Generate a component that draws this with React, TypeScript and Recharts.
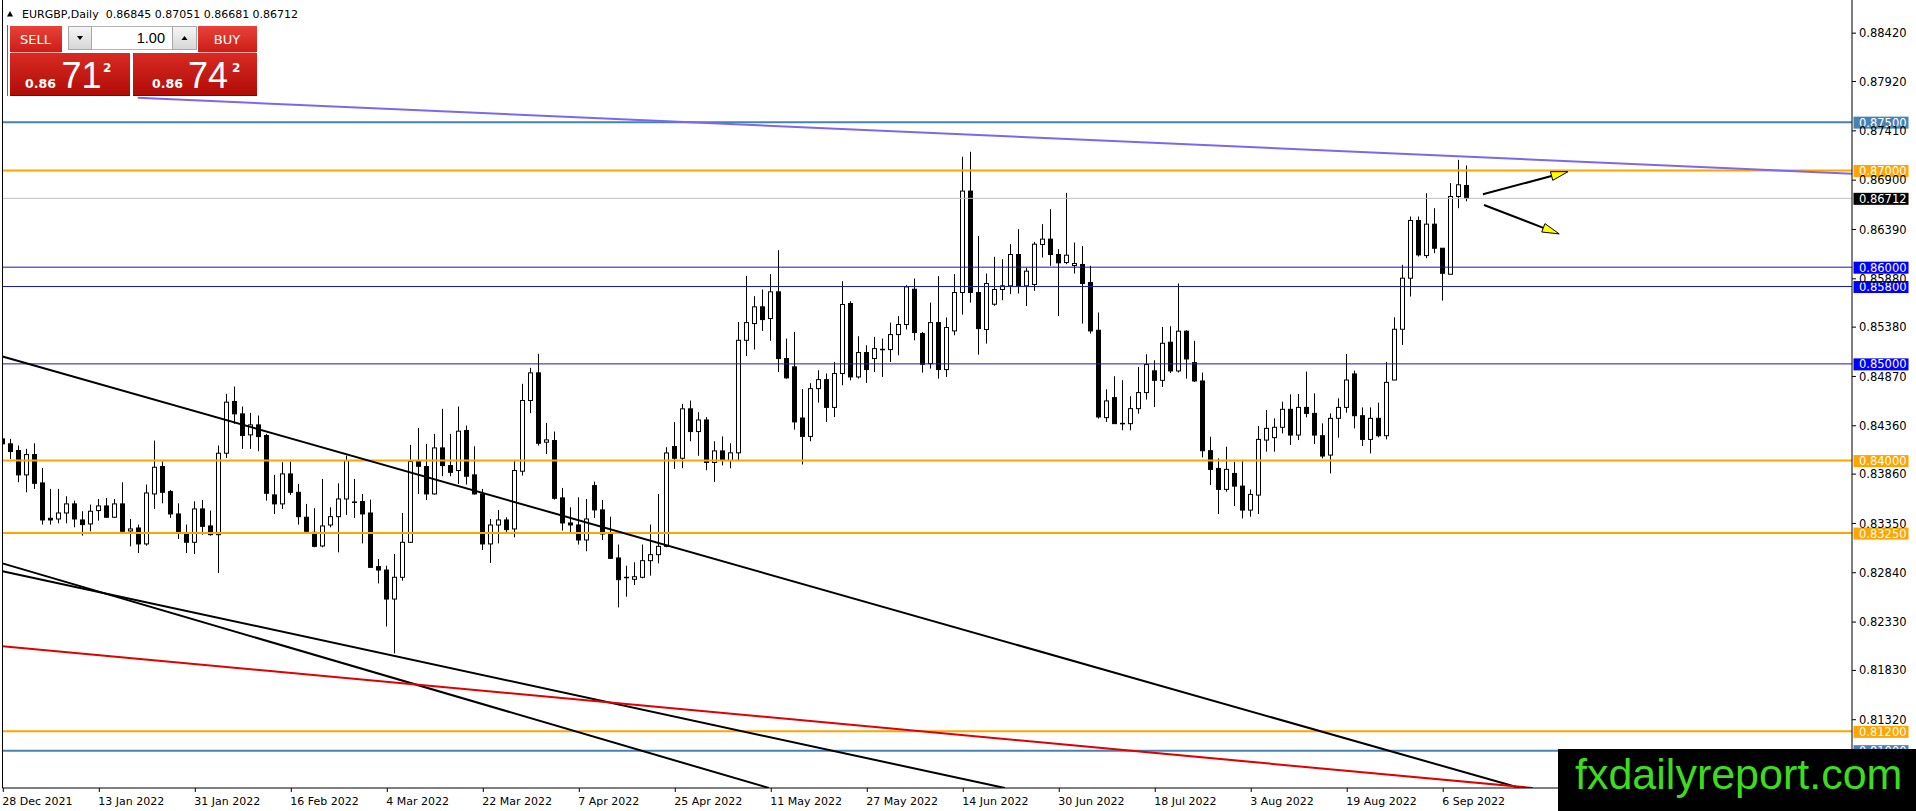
import React from "react";
import {
  ComposedChart,
  Bar,
  XAxis,
  YAxis,
  ReferenceLine,
} from "recharts";

// EURGBP daily candles, bar index 0 = 28 Dec 2021
const OPENS = [
  0.84224, 0.84173, 0.84104, 0.83852, 0.84062, 0.83769, 0.83403, 0.83396, 0.83458, 0.83552,
  0.83386, 0.83345, 0.83483, 0.83531, 0.83414, 0.83552, 0.83272, 0.83303, 0.83138, 0.83655,
  0.83938, 0.83679, 0.83448, 0.83241, 0.83155, 0.835, 0.83324, 0.83234, 0.84076, 0.84611,
  0.84483, 0.84266, 0.84369, 0.84259, 0.83645, 0.83552, 0.83862, 0.83672, 0.83414, 0.83258,
  0.83117, 0.83334, 0.8342, 0.83603, 0.83572, 0.83576, 0.83458, 0.82903, 0.82868, 0.82568,
  0.82793, 0.83155, 0.8399, 0.83938, 0.83655, 0.84131, 0.83948, 0.83897, 0.84311, 0.83852,
  0.83655, 0.83138, 0.83334, 0.83386, 0.83293, 0.8389, 0.84621, 0.84907, 0.8419, 0.84207,
  0.83614, 0.83355, 0.83334, 0.83179, 0.83741, 0.8349, 0.83241, 0.82993, 0.82793, 0.82772,
  0.82793, 0.82965, 0.83027, 0.83113, 0.84145, 0.84024, 0.84535, 0.843, 0.8442, 0.8398,
  0.841, 0.84, 0.8408, 0.85244, 0.85417, 0.8559, 0.85469, 0.85745, 0.85055, 0.84969,
  0.8444, 0.8425, 0.84744, 0.84837, 0.8455, 0.849, 0.85624, 0.84865, 0.85117, 0.85055,
  0.85151, 0.85148, 0.85303, 0.85407, 0.85772, 0.85313, 0.85003, 0.85427, 0.84941, 0.85341,
  0.85738, 0.86787, 0.85738, 0.85355, 0.85617, 0.85769, 0.85807, 0.86131, 0.85807, 0.85821,
  0.86235, 0.8629, 0.86131, 0.86048, 0.86017, 0.86028, 0.85841, 0.85348, 0.84444, 0.84651,
  0.84385, 0.84382, 0.84537, 0.84703, 0.84928, 0.8483, 0.85224, 0.84927, 0.85338, 0.85013,
  0.84823, 0.84102, 0.83919, 0.83702, 0.83867, 0.83736, 0.83488, 0.83643, 0.84212, 0.84237,
  0.84344, 0.8453, 0.84264, 0.8455, 0.84488, 0.84257, 0.84057, 0.84437, 0.8455, 0.84896,
  0.84464, 0.84219, 0.84437, 0.84257, 0.84833, 0.85358, 0.85886, 0.86483, 0.8612, 0.86445,
  0.86196, 0.85927, 0.86731, 0.86845,
];

const HIGHS = [
  0.84317, 0.84224, 0.84155, 0.84121, 0.84179, 0.83924, 0.83707, 0.83707, 0.83631, 0.83586,
  0.83476, 0.83545, 0.83603, 0.83614, 0.83603, 0.83776, 0.83396, 0.83338, 0.83752, 0.84207,
  0.83993, 0.83696, 0.83558, 0.83338, 0.83579, 0.83593, 0.83483, 0.84155, 0.8469, 0.84766,
  0.84559, 0.84493, 0.84466, 0.84276, 0.83852, 0.83983, 0.8399, 0.83759, 0.83552, 0.83507,
  0.8381, 0.83517, 0.83765, 0.84052, 0.8381, 0.83655, 0.83596, 0.82982, 0.82913, 0.83034,
  0.83458, 0.84162, 0.84338, 0.84173, 0.84276, 0.84535, 0.84276, 0.84559, 0.84362, 0.84148,
  0.83707, 0.83396, 0.83489, 0.83414, 0.84, 0.84794, 0.84959, 0.85104, 0.8439, 0.843,
  0.83717, 0.83517, 0.8362, 0.83603, 0.83783, 0.83593, 0.8342, 0.83131, 0.82913, 0.82948,
  0.83131, 0.83338, 0.83655, 0.84138, 0.84397, 0.84587, 0.8462, 0.845, 0.8445, 0.842,
  0.8425, 0.8418, 0.85434, 0.8591, 0.857, 0.85769, 0.85928, 0.86176, 0.85262, 0.85331,
  0.8474, 0.848, 0.84934, 0.849, 0.8502, 0.85855, 0.85648, 0.85286, 0.85193, 0.85279,
  0.85262, 0.85427, 0.85493, 0.85814, 0.85883, 0.8533, 0.85634, 0.85907, 0.85479, 0.85928,
  0.87142, 0.87194, 0.86321, 0.85934, 0.86107, 0.86083, 0.86238, 0.86393, 0.85993, 0.86262,
  0.86445, 0.866, 0.86186, 0.86769, 0.86255, 0.86217, 0.86014, 0.85531, 0.84737, 0.84872,
  0.84831, 0.84665, 0.84968, 0.851, 0.85037, 0.85382, 0.85389, 0.85831, 0.85348, 0.85238,
  0.8491, 0.84247, 0.84023, 0.84143, 0.83988, 0.83999, 0.83702, 0.84357, 0.84523, 0.84437,
  0.84609, 0.84685, 0.84689, 0.8492, 0.84695, 0.84385, 0.84488, 0.84644, 0.85103, 0.8493,
  0.8455, 0.8455, 0.84599, 0.8502, 0.85482, 0.86024, 0.86524, 0.86524, 0.86765, 0.8661,
  0.86196, 0.86869, 0.8711, 0.87051,
];

const LOWS = [
  0.84155, 0.84017, 0.83776, 0.83672, 0.83707, 0.83338, 0.83338, 0.83351, 0.83351, 0.8331,
  0.83224, 0.83269, 0.83379, 0.83407, 0.83407, 0.83258, 0.83113, 0.83044, 0.8312, 0.835,
  0.83558, 0.83407, 0.83189, 0.83044, 0.83034, 0.83234, 0.83224, 0.82837, 0.84028, 0.8438,
  0.84121, 0.84121, 0.84097, 0.83586, 0.83448, 0.835, 0.83645, 0.83338, 0.83241, 0.83103,
  0.83103, 0.8331, 0.83051, 0.83438, 0.83407, 0.83144, 0.82889, 0.8273, 0.82285, 0.82006,
  0.82758, 0.83148, 0.83655, 0.83593, 0.83648, 0.83838, 0.83838, 0.83759, 0.83752, 0.83648,
  0.83075, 0.82941, 0.83144, 0.83241, 0.83207, 0.83845, 0.8449, 0.84155, 0.84069, 0.83596,
  0.83276, 0.83258, 0.83131, 0.83062, 0.83407, 0.83179, 0.82982, 0.82482, 0.82592, 0.82713,
  0.82782, 0.8281, 0.82937, 0.83103, 0.83914, 0.83921, 0.842, 0.8405, 0.839, 0.8378,
  0.8395, 0.8392, 0.84, 0.85082, 0.85148, 0.85341, 0.85238, 0.84917, 0.84848, 0.8432,
  0.8396, 0.842, 0.846, 0.844, 0.8445, 0.84779, 0.8483, 0.84848, 0.84803, 0.84917,
  0.84865, 0.8502, 0.85089, 0.85355, 0.85244, 0.8491, 0.84951, 0.84848, 0.84865, 0.85296,
  0.8551, 0.85634, 0.85096, 0.8521, 0.856, 0.85658, 0.85721, 0.85727, 0.85598, 0.85755,
  0.861, 0.86014, 0.85496, 0.86031, 0.85934, 0.85417, 0.85313, 0.84434, 0.84399, 0.84382,
  0.84313, 0.84313, 0.84485, 0.8463, 0.84554, 0.84761, 0.84906, 0.8491, 0.84848, 0.84813,
  0.84033, 0.83747, 0.83447, 0.83678, 0.83529, 0.83402, 0.83419, 0.83447, 0.84092, 0.84092,
  0.84281, 0.84161, 0.84212, 0.84447, 0.84171, 0.84023, 0.83867, 0.84237, 0.84495, 0.84333,
  0.84151, 0.84074, 0.8424, 0.84219, 0.84833, 0.85196, 0.85696, 0.8611, 0.86093, 0.86144,
  0.85655, 0.85927, 0.8661, 0.86681,
];

const CLOSES = [
  0.84173, 0.84093, 0.83852, 0.84062, 0.83765, 0.83386, 0.83386, 0.83458, 0.83552, 0.83396,
  0.83338, 0.83476, 0.83531, 0.83414, 0.83552, 0.83269, 0.83293, 0.83138, 0.83665, 0.83931,
  0.83672, 0.83448, 0.83248, 0.83155, 0.835, 0.8332, 0.83234, 0.84076, 0.84604, 0.84483,
  0.84259, 0.84369, 0.84248, 0.83662, 0.83552, 0.83862, 0.83672, 0.8342, 0.83269, 0.83113,
  0.83324, 0.8342, 0.83603, 0.84, 0.83569, 0.83448, 0.82896, 0.82868, 0.82568, 0.82793,
  0.83155, 0.8399, 0.83941, 0.83655, 0.84131, 0.83948, 0.83879, 0.84304, 0.83838, 0.83655,
  0.83138, 0.83334, 0.83386, 0.83286, 0.83897, 0.84621, 0.84907, 0.84179, 0.84214, 0.8361,
  0.83355, 0.83334, 0.83179, 0.83396, 0.8349, 0.83241, 0.82989, 0.82768, 0.82789, 0.82799,
  0.82965, 0.83027, 0.83113, 0.84079, 0.84024, 0.84535, 0.843, 0.8442, 0.8398, 0.841,
  0.84, 0.8408, 0.85244, 0.85427, 0.8559, 0.85458, 0.85745, 0.85055, 0.84855, 0.844,
  0.8425, 0.84744, 0.84837, 0.8455, 0.849, 0.85614, 0.84865, 0.85117, 0.84941, 0.85158,
  0.85148, 0.85303, 0.85407, 0.85796, 0.85324, 0.84996, 0.85427, 0.84941, 0.85376, 0.85738,
  0.86787, 0.85738, 0.85365, 0.85831, 0.85769, 0.85807, 0.86131, 0.85807, 0.85959, 0.86238,
  0.8629, 0.86131, 0.86045, 0.86124, 0.86038, 0.85831, 0.85341, 0.84451, 0.84617, 0.84382,
  0.84382, 0.84537, 0.84703, 0.84993, 0.8483, 0.85213, 0.84927, 0.85338, 0.85051, 0.84823,
  0.84102, 0.83909, 0.83702, 0.83909, 0.83736, 0.83488, 0.8365, 0.84219, 0.84333, 0.84344,
  0.8453, 0.84264, 0.8455, 0.84488, 0.84264, 0.84047, 0.84437, 0.8455, 0.84833, 0.84464,
  0.84219, 0.84437, 0.84257, 0.84809, 0.85358, 0.85886, 0.86483, 0.86127, 0.86445, 0.86196,
  0.85937, 0.86731, 0.86852, 0.86712,
];

const DATE_TICKS = [0, 12, 24, 36, 48, 60, 72, 84, 96, 108, 120, 132, 144, 156, 168, 180];
const DATE_LABELS = [
  "28 Dec 2021", "13 Jan 2022", "31 Jan 2022", "16 Feb 2022", "4 Mar 2022", "22 Mar 2022",
  "7 Apr 2022", "25 Apr 2022", "11 May 2022", "27 May 2022", "14 Jun 2022", "30 Jun 2022",
  "18 Jul 2022", "3 Aug 2022", "19 Aug 2022", "6 Sep 2022",
];

const PRICE_TICKS = [
  0.8132, 0.8183, 0.8233, 0.8284, 0.8335, 0.8386, 0.8436, 0.8487,
  0.8538, 0.8588, 0.8639, 0.869, 0.8741, 0.8792, 0.8842,
];

// horizontal levels drawn on the chart
const LEVELS = [0.875, 0.87, 0.86712, 0.86, 0.858, 0.85, 0.84, 0.8325, 0.812, 0.81];
const LEVEL_COLORS = ["#4682B4", "#FFA500", "#C0C0C0", "#0000FF", "#0000FF", "#0000FF", "#FFA500", "#FFA500", "#FFA500", "#4682B4"];
const LEVEL_LINE = ["#4682B4", "#FFA500", "#C0C0C0", "#1818B8", "#1818B8", "#1818B8", "#FFA500", "#FFA500", "#FFA500", "#4682B4"];
const LEVEL_WIDTH = [2, 2, 1, 1, 1, 1, 2, 2, 2, 2];
const TAG_COLORS = ["#4682B4", "#FFA500", "#000000", "#0000FF", "#0000FF", "#0000FF", "#FFA500", "#FFA500", "#FFA500", "#4682B4"];

// trend lines: bar index / price pairs
const TRENDS = [
  { x1: 16.8, y1: 0.87752, x2: 231.1, y2: 0.86967 },
  { x1: -0.1, y1: 0.85077, x2: 189.6, y2: 0.80614 },
  { x1: -0.1, y1: 0.82937, x2: 95.7, y2: 0.80614 },
  { x1: -0.1, y1: 0.82856, x2: 125.2, y2: 0.80614 },
  { x1: -0.1, y1: 0.82081, x2: 191.2, y2: 0.80614 },
];
const TREND_COLORS = ["#7B68EE", "#000000", "#000000", "#000000", "#E00000"];

const ARROWS = [
  { x1: 184.96, y1: 0.86754, x2: 195.6, y2: 0.86988 },
  { x1: 185.1, y1: 0.86643, x2: 194.5, y2: 0.86344 },
];

const rows = OPENS.map((o, i) => ({
  i,
  open: o,
  high: HIGHS[i],
  low: LOWS[i],
  close: CLOSES[i],
  range: [LOWS[i], HIGHS[i]],
}));

const FONT = "'DejaVu Sans', sans-serif";

const Candle = (props: any) => {
  const { x, y, width, height, payload } = props;
  if (!payload || x == null) return null;
  const { open, close, high, low } = payload;
  const top = Math.min(y, y + height);
  const h = Math.abs(height);
  const span = high - low || 1e-9;
  const py = (p: number) => top + ((high - p) / span) * h;
  const cx = Math.floor(x + width / 2) + 0.5;
  const bTop = py(Math.max(open, close));
  const bBot = py(Math.min(open, close));
  const up = close >= open;
  return (
    <g>
      <line x1={cx} x2={cx} y1={top} y2={top + h} stroke="#000" strokeWidth={1} />
      <rect
        x={cx - 2}
        y={bTop}
        width={4}
        height={Math.max(bBot - bTop, 0.5)}
        fill={up ? "#fff" : "#000"}
        stroke="#000"
        strokeWidth={1}
      />
    </g>
  );
};

const DateTick = ({ x, y, payload }: any) => {
  const idx = DATE_TICKS.indexOf(payload.value);
  return (
    <g>
      <line x1={x} x2={x} y1={y} y2={y + 4} stroke="#000" />
      <text x={x - 1} y={y + 17} fontSize={11} fontFamily={FONT} fill="#000">
        {DATE_LABELS[idx]}
      </text>
    </g>
  );
};

const priceTag = (text: string, fill: string) => (props: any) => {
  const vb = props.viewBox || {};
  const xr = (vb.x || 0) + (vb.width || 0);
  const yy = vb.y || 0;
  return (
    <g>
      <rect x={xr + 1.5} y={yy - 5.5} width={55} height={12} fill={fill} />
      <text x={xr + 7} y={yy + 4.6} fontSize={11.5} fontFamily={FONT} fill="#fff">
        {text}
      </text>
    </g>
  );
};

const Arrow = (p: any) => {
  const { x1, y1, x2, y2 } = p;
  if (x1 == null) return null;
  const dx = x2 - x1;
  const dy = y2 - y1;
  const len = Math.sqrt(dx * dx + dy * dy) || 1;
  const ux = dx / len;
  const uy = dy / len;
  const bx = x2 - ux * 17;
  const by = y2 - uy * 17;
  const nx = -uy * 4.5;
  const ny = ux * 4.5;
  return (
    <g>
      <line x1={x1} y1={y1} x2={bx} y2={by} stroke="#000" strokeWidth={2} />
      <polygon
        points={`${x2},${y2} ${bx + nx},${by + ny} ${bx - nx},${by - ny}`}
        fill="#FFFF00"
        stroke="#000"
        strokeWidth={1}
      />
    </g>
  );
};

const TradePanel = () => (
  <svg
    width={1916}
    height={811}
    style={{ position: "absolute", left: 0, top: 0, pointerEvents: "none" }}
  >
    <defs>
      <linearGradient id="tabRed" x1="0" y1="0" x2="0" y2="1">
        <stop offset="0" stopColor="#e8423a" />
        <stop offset="1" stopColor="#cc1d16" />
      </linearGradient>
      <linearGradient id="boxRed" x1="0" y1="0" x2="0" y2="1">
        <stop offset="0" stopColor="#d82a22" />
        <stop offset="1" stopColor="#b10c07" />
      </linearGradient>
      <linearGradient id="btnGray" x1="0" y1="0" x2="0" y2="1">
        <stop offset="0" stopColor="#f6f6f6" />
        <stop offset="1" stopColor="#d6d6d6" />
      </linearGradient>
    </defs>
    <line x1={2.5} x2={2.5} y1={0} y2={788} stroke="#000" />
    {/* header */}
    <polygon points="7,16.5 13,16.5 10,11" fill="#000" />
    <text x={22} y={17.5} fontSize={11} fontFamily={FONT} fill="#000" style={{ whiteSpace: "pre" }}>
      {"EURGBP,Daily  0.86845 0.87051 0.86681 0.86712"}
    </text>
    {/* one-click trading */}
    <line x1={7.5} x2={7.5} y1={25} y2={96} stroke="#666" />
    <rect x={10} y={26} width={52} height={26} fill="url(#tabRed)" />
    <line x1={11} x2={61} y1={52.5} y2={52.5} stroke="#f0a0a0" />
    <text x={35.5} y={44} fontSize={13} fontFamily={FONT} fill="#fff" textAnchor="middle">SELL</text>
    <rect x={68.5} y={26.5} width={128} height={23} fill="#fff" stroke="#b4b4b4" />
    <rect x={68.5} y={26.5} width={23} height={23} fill="url(#btnGray)" stroke="#a8a8a8" />
    <polygon points="77,36 83,36 80,40" fill="#000" />
    <rect x={172.5} y={26.5} width={24} height={23} fill="url(#btnGray)" stroke="#a8a8a8" />
    <polygon points="181.5,40 187.5,40 184.5,36" fill="#000" />
    <text x={165} y={43} fontSize={14.5} fontFamily="'Liberation Sans', Arial" fill="#000" textAnchor="end">1.00</text>
    <rect x={198} y={26} width={59} height={26} fill="url(#tabRed)" />
    <line x1={199} x2={256} y1={52.5} y2={52.5} stroke="#f0a0a0" />
    <text x={227} y={44} fontSize={13} fontFamily={FONT} fill="#fff" textAnchor="middle">BUY</text>
    <rect x={10} y={53} width={120} height={42} fill="url(#boxRed)" />
    <rect x={133} y={53} width={124} height={42} fill="url(#boxRed)" />
    <line x1={10} x2={130} y1={95.5} y2={95.5} stroke="#7a0805" />
    <line x1={133} x2={257} y1={95.5} y2={95.5} stroke="#7a0805" />
    <text x={25} y={87.5} fontSize={12.5} fontWeight="bold" fontFamily={FONT} fill="#fff">0.86</text>
    <text x={61.5} y={87.5} fontSize={36} fontFamily="'Liberation Sans', Arial" fill="#fff">71</text>
    <text x={103} y={71.5} fontSize={12} fontWeight="bold" fontFamily={FONT} fill="#fff">2</text>
    <text x={152} y={87.5} fontSize={12.5} fontWeight="bold" fontFamily={FONT} fill="#fff">0.86</text>
    <text x={188} y={87.5} fontSize={36} fontFamily="'Liberation Sans', Arial" fill="#fff">74</text>
    <text x={232} y={71.5} fontSize={12} fontWeight="bold" fontFamily={FONT} fill="#fff">2</text>
    {/* watermark */}
    <rect x={1558} y={749} width={358} height={62} fill="#000" />
    <text x={1575} y={789} fontSize={43} fontFamily="'Liberation Sans', Arial" fill="#3cdc1e">
      fxdailyreport.com
    </text>
  </svg>
);

export default function App() {
  return (
    <div style={{ position: "relative", width: 1916, height: 811, background: "#fff" }}>
      <style>{"body{margin:0;background:#fff}"}</style>
      <ComposedChart
        width={1916}
        height={811}
        data={rows}
        margin={{ top: 0, right: 0, bottom: 0, left: 2.5 }}
        style={{ position: "absolute", left: 0, top: 0 }}
      >
        <XAxis
          dataKey="i"
          type="number"
          domain={[-0.1, 231.1]}
          allowDataOverflow
          ticks={DATE_TICKS}
          interval={0}
          height={23}
          tickSize={0}
          tickMargin={0}
          tickLine={false}
          axisLine={{ stroke: "#000" }}
          tick={<DateTick />}
        />
        <YAxis
          orientation="right"
          type="number"
          domain={[0.80614, 0.88763]}
          allowDataOverflow
          ticks={PRICE_TICKS}
          interval={0}
          width={64}
          tickSize={4}
          tickMargin={3}
          tickLine={{ stroke: "#000" }}
          axisLine={{ stroke: "#000" }}
          tickFormatter={(v: number) => v.toFixed(5)}
          tick={{ fontSize: 11.5, fontFamily: FONT, fill: "#000" }}
        />
        <Bar dataKey="range" barSize={5} shape={Candle} isAnimationActive={false} />
        {LEVELS.map((p, k) => (
          <ReferenceLine
            key={"lv" + k}
            y={p}
            stroke={LEVEL_LINE[k]}
            strokeWidth={LEVEL_WIDTH[k]}
            ifOverflow="visible"
            label={priceTag(p.toFixed(5), TAG_COLORS[k])}
          />
        ))}
        {TRENDS.map((t, k) => (
          <ReferenceLine
            key={"tr" + k}
            segment={[{ x: t.x1, y: t.y1 }, { x: t.x2, y: t.y2 }]}
            stroke={TREND_COLORS[k]}
            strokeWidth={2}
            ifOverflow="hidden"
          />
        ))}
        {ARROWS.map((a, k) => (
          <ReferenceLine
            key={"ar" + k}
            segment={[{ x: a.x1, y: a.y1 }, { x: a.x2, y: a.y2 }]}
            ifOverflow="visible"
            shape={(p: any) => <Arrow {...p} />}
          />
        ))}
      </ComposedChart>
      <TradePanel />
    </div>
  );
}
